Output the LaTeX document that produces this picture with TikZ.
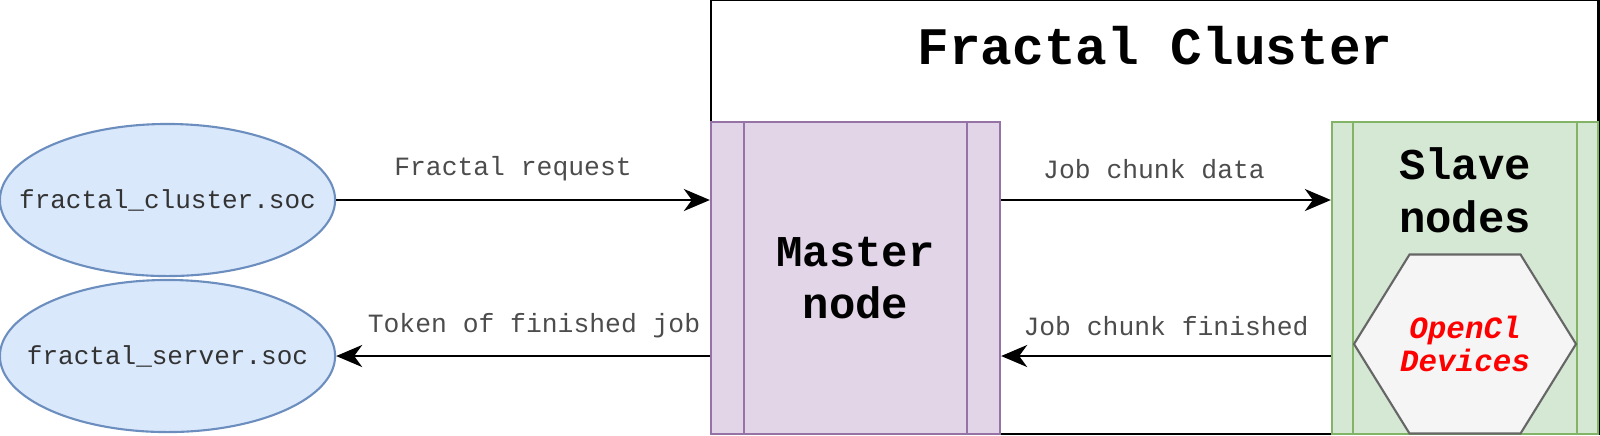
\documentclass[tikz,border=0pt]{standalone}
\usepackage{fontspec}
\setmainfont{Liberation Mono}
\usetikzlibrary{arrows.meta,shapes.geometric,calc}
\definecolor{sockfill}{HTML}{DAE8FC}
\definecolor{sockdraw}{HTML}{6C8EBF}
\definecolor{masterfill}{HTML}{E1D5E7}
\definecolor{masterdraw}{HTML}{9673A6}
\definecolor{slavefill}{HTML}{D5E8D4}
\definecolor{slavedraw}{HTML}{82B366}
\definecolor{hexfill}{HTML}{F5F5F5}
\definecolor{hexdraw}{HTML}{666666}
\tikzset{
  sock/.style={ellipse, draw=sockdraw, fill=sockfill, line width=0.6pt, minimum width=3.35cm, minimum height=1.52cm, inner sep=0pt},
  socktext/.style={font=\fontsize{7.4}{9}\selectfont, text=black!80},
  proc/.style={rectangle, line width=0.6pt, minimum height=3.11cm, inner sep=0pt, align=center, font=\fontsize{12.5}{15}\selectfont\bfseries},
  msg/.style={font=\fontsize{7.5}{9}\selectfont, text=black!70},
  flow/.style={-{Stealth[length=2.6mm,width=2.2mm,inset=0.8mm]}, line width=0.7pt}
}
\begin{document}
\begin{tikzpicture}[x=0.01cm, y=-0.01cm]
  \useasboundingbox (0,0) rectangle (1600,435);
  % cluster frame
  \node[draw, line width=0.7pt, minimum width=8.87cm, minimum height=4.34cm, inner sep=0pt] (cluster) at (1154.5,217) {};
  \node[font=\fontsize{15}{18}\selectfont\bfseries] (title) at (1155,46) {Fractal Cluster};
  % sockets
  \node[sock] (clustersoc) at (167.5,200) {};
  \node[socktext] (clustertext) at (clustersoc) {fractal\_cluster.soc};
  \node[sock] (serversoc) at (167.5,356) {};
  \node[socktext] (servertext) at (serversoc) {fractal\_server.soc};
  % master
  \node[proc, draw=masterdraw, fill=masterfill, minimum width=2.89cm] (master) at (855.5,278) {Master\\node};
  \draw[masterdraw, line width=0.6pt] ([xshift=0.34cm]master.north west) -- ([xshift=0.34cm]master.south west);
  \draw[masterdraw, line width=0.6pt] ([xshift=-0.34cm]master.north east) -- ([xshift=-0.34cm]master.south east);
  % slaves
  \node[proc, draw=slavedraw, fill=slavefill, minimum width=2.66cm] (slave) at (1465,278) {};
  \draw[slavedraw, line width=0.6pt] ([xshift=0.22cm]slave.north west) -- ([xshift=0.22cm]slave.south west);
  \draw[slavedraw, line width=0.6pt] ([xshift=-0.22cm]slave.north east) -- ([xshift=-0.22cm]slave.south east);
  \node[align=center, font=\fontsize{12.5}{15}\selectfont\bfseries] (slavetitle) at (1465,190) {Slave\\nodes};
  % devices
  \coordinate (hex) at (1465,344);
  \draw[draw=hexdraw, fill=hexfill, line width=0.6pt] ($(hex)+(-111,0)$) -- ($(hex)+(-55.5,-89.5)$) -- ($(hex)+(55.5,-89.5)$) -- ($(hex)+(111,0)$) -- ($(hex)+(55.5,89.5)$) -- ($(hex)+(-55.5,89.5)$) -- cycle;
  \node[align=center, text=red, font=\fontsize{8.8}{9.6}\selectfont\bfseries\itshape] (devices) at (hex) {OpenCl\\Devices};
  % messages
  \coordinate (m1) at (master.west |- clustersoc.east);
  \coordinate (m2) at (master.west |- serversoc.east);
  \coordinate (m3) at (master.east |- clustersoc.east);
  \coordinate (m4) at (master.east |- serversoc.east);
  \coordinate (s1) at (slave.west |- clustersoc.east);
  \coordinate (s2) at (slave.west |- serversoc.east);
  \draw[flow] (clustersoc.east) -- (m1);
  \draw[flow] (m2) -- (serversoc.east);
  \draw[flow] (m3) -- (s1);
  \draw[flow] (s2) -- (m4);
  \node[msg] (req) at (513,169) {Fractal request};
  \node[msg] (token) at (534,326) {Token of finished job};
  \node[msg] (chunk) at (1154,169) {Job chunk data};
  \node[msg] (done) at (1166,326) {Job chunk finished};
\end{tikzpicture}
\end{document}
